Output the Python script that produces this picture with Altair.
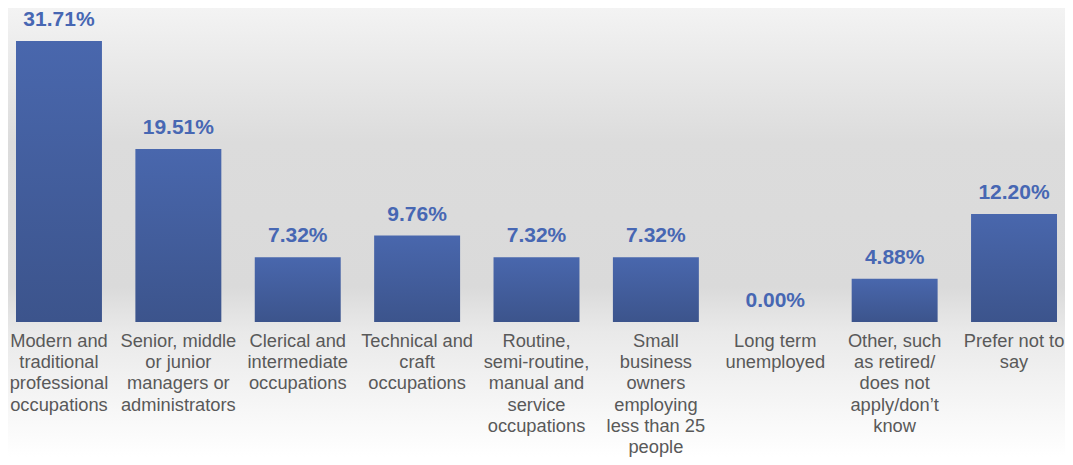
import altair as alt
import pandas as pd

categories = [
    "Modern and\ntraditional\nprofessional\noccupations",
    "Senior, middle\nor junior\nmanagers or\nadministrators",
    "Clerical and\nintermediate\noccupations",
    "Technical and\ncraft\noccupations",
    "Routine,\nsemi-routine,\nmanual and\nservice\noccupations",
    "Small\nbusiness\nowners\nemploying\nless than 25\npeople",
    "Long term\nunemployed",
    "Other, such\nas retired/\ndoes not\napply/don\u2019t\nknow",
    "Prefer not to\nsay",
]
values = [31.71, 19.51, 7.32, 9.76, 7.32, 7.32, 0.00, 4.88, 12.20]
labels = ["31.71%", "19.51%", "7.32%", "9.76%", "7.32%", "7.32%", "0.00%", "4.88%", "12.20%"]

df = pd.DataFrame({"cat": categories, "v": values, "lab": labels, "zero": [0] * len(values)})

W, H = 1057, 449

xs = alt.Scale(domain=categories, paddingInner=0.28, paddingOuter=0.067)
ys = alt.Scale(domain=[-15.23, 35.43], nice=False, zero=False)
x = alt.X("cat:N", scale=xs, axis=None, sort=None)

bg = alt.Chart(alt.Data(values=[{"a": 1}])).mark_rect(
    color=alt.LinearGradient(
        gradient="linear", x1=0, y1=0, x2=0, y2=1,
        stops=[
            alt.GradientStop(offset=0, color="#f3f3f3"),
            alt.GradientStop(offset=0.3, color="#dcdcdc"),
            alt.GradientStop(offset=0.62, color="#dadada"),
            alt.GradientStop(offset=0.72, color="#e9e9e9"),
            alt.GradientStop(offset=1, color="#ffffff"),
        ],
    )
).encode(x=alt.value(0), x2=alt.value(W), y=alt.value(0), y2=alt.value(H))

base = alt.Chart(df)

bars = base.mark_bar(
    color=alt.LinearGradient(
        gradient="linear", x1=0, y1=0, x2=0, y2=1,
        stops=[
            alt.GradientStop(offset=0, color="#4967ad"),
            alt.GradientStop(offset=1, color="#3c548c"),
        ],
    ),
    cornerRadius=0,
).encode(x=x, y=alt.Y("v:Q", scale=ys, axis=None), y2=alt.Y2("zero:Q"))

vlabels = base.mark_text(
    font="Liberation Sans", fontSize=21, fontWeight="bold", color="#4767b3",
    baseline="alphabetic", dy=-15,
).encode(x=x, y=alt.Y("v:Q", scale=ys, axis=None), text="lab:N")

clabels = base.mark_text(
    font="Liberation Sans", fontSize=18.3, color="#595959", baseline="top",
    lineBreak="\n", lineHeight=21.2,
).encode(x=x, y=alt.value(325), text="cat:N")

chart = alt.layer(bg, bars, vlabels, clabels).properties(
    width=W, height=H, padding=0, autosize=alt.AutoSizeParams(type="none"),
    background="#ffffff",
).configure_view(stroke=None)

chart.save("out.html", embed_options={"renderer": "svg", "actions": False})
